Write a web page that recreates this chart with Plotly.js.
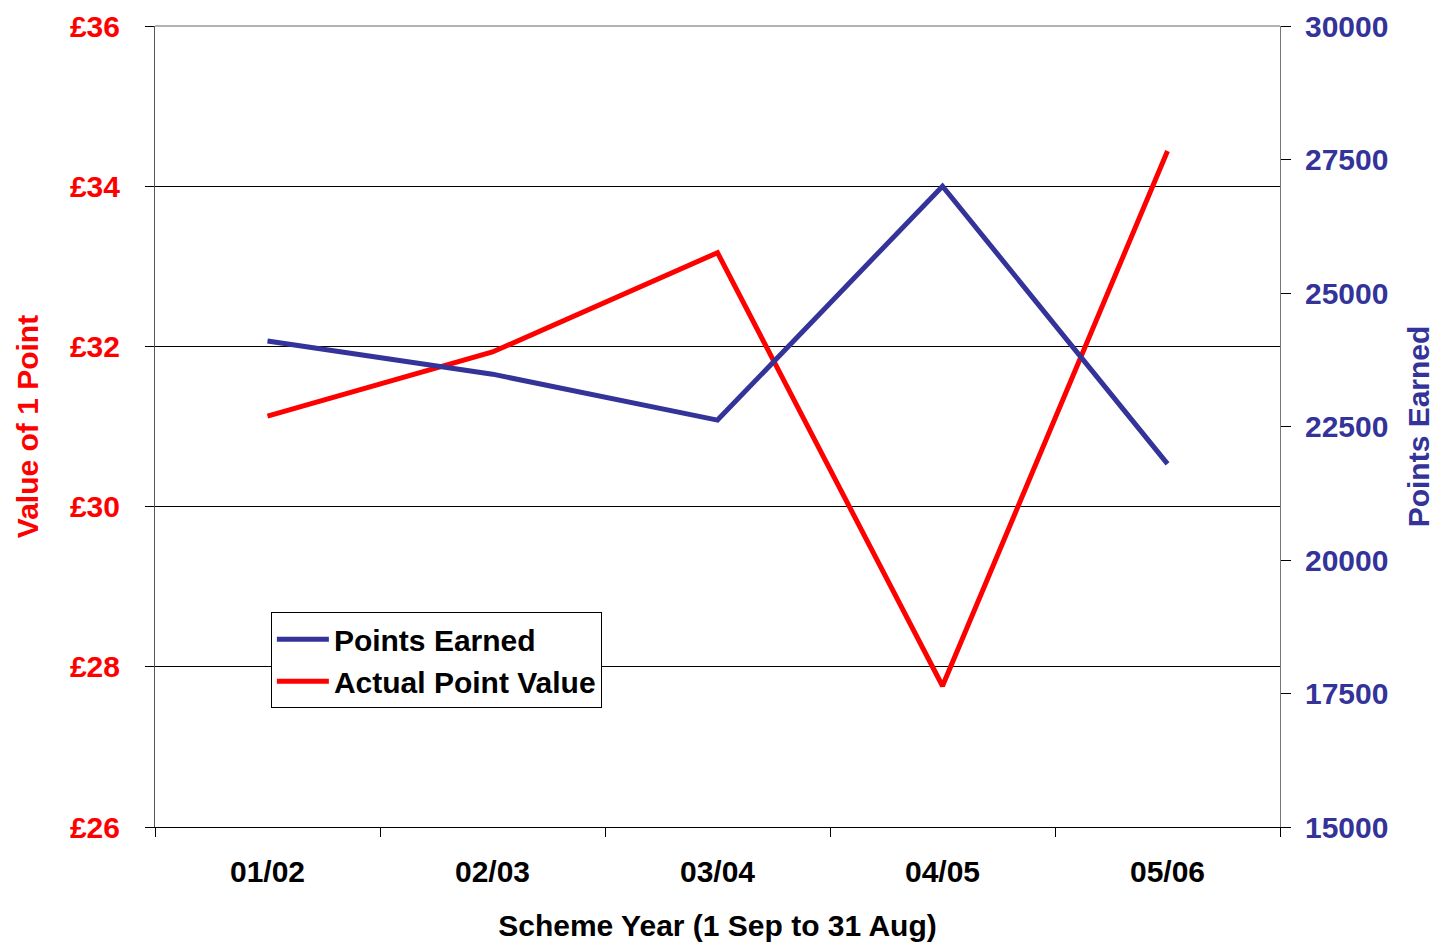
<!DOCTYPE html>
<html>
<head>
<meta charset="utf-8">
<script src="https://cdn.plot.ly/plotly-3.0.1.min.js"></script>
<style>html,body{margin:0;padding:0;background:#fff;}#chart{width:1437px;height:943px;}</style>
</head>
<body>
<div id="chart"></div>
<script>
const years = ['01/02', '02/03', '03/04', '04/05', '05/06'];
const pointsEarned = [24100, 23480, 22620, 27000, 21800];
const pointValue = [31.13, 31.93, 33.17, 27.76, 34.44];
const valueTicks = [26, 28, 30, 32, 34, 36];
const valueTickText = ['£26', '£28', '£30', '£32', '£34', '£36'];
const pointsTicks = [15000, 17500, 20000, 22500, 25000, 27500, 30000];
const pointsTickText = ['15000', '17500', '20000', '22500', '25000', '27500', '30000'];

const FONT = 'Liberation Sans, Arial, sans-serif';
const RED = '#FF0000';
const BLUE = '#333399';

const traces = [
  {
    x: years, y: pointsEarned, name: 'Points Earned', yaxis: 'y2',
    type: 'scatter', mode: 'lines',
    line: {color: BLUE, width: 5}
  },
  {
    x: years, y: pointValue, name: 'Actual Point Value', yaxis: 'y',
    type: 'scatter', mode: 'lines',
    line: {color: RED, width: 5}
  }
];

const layout = {
  width: 1437, height: 943,
  margin: {l: 155, r: 157, t: 26, b: 116},
  paper_bgcolor: '#fff', plot_bgcolor: '#fff',
  font: {family: FONT, size: 30, color: '#000', weight: 'bold'},
  showlegend: true,
  legend: {
    x: 0.103, y: 0.268, xanchor: 'left', yanchor: 'top',
    bgcolor: '#fff', bordercolor: '#000', borderwidth: 1,
    font: {family: FONT, size: 30, color: '#000', weight: 'bold'},
    traceorder: 'normal', itemwidth: 52
  },
  xaxis: {
    type: 'category', range: [-0.5, 4.5],
    tickson: 'boundaries', ticks: 'outside', ticklen: 9, tickcolor: '#000', tickwidth: 1,
    showline: true, linecolor: '#000', linewidth: 1, mirror: false,
    showgrid: false, zeroline: false,
    tickfont: {family: FONT, size: 30, color: '#000', weight: 'bold'},
    ticklabelstandoff: 18,
    title: {text: 'Scheme Year (1 Sep to 31 Aug)', font: {family: FONT, size: 30, color: '#000', weight: 'bold'}, standoff: 27}
  },
  yaxis: {
    range: [26, 36], tickvals: valueTicks, ticktext: valueTickText,
    ticks: 'outside', ticklen: 9, tickcolor: '#000', tickwidth: 1,
    showline: true, linecolor: '#555', linewidth: 1,
    showgrid: true, gridcolor: '#000', gridwidth: 1, zeroline: false,
    tickfont: {family: FONT, size: 30, color: RED, weight: 'bold'},
    ticklabelstandoff: 19,
    title: {text: 'Value of 1 Point', font: {family: FONT, size: 30, color: RED, weight: 'bold'}, standoff: 22}
  },
  yaxis2: {
    overlaying: 'y', side: 'right',
    range: [15000, 30000], tickvals: pointsTicks, ticktext: pointsTickText,
    ticks: 'outside', ticklen: 10, tickcolor: '#000', tickwidth: 1,
    showline: true, linecolor: '#777', linewidth: 1,
    showgrid: false, zeroline: false,
    tickfont: {family: FONT, size: 30, color: BLUE, weight: 'bold'},
    ticklabelstandoff: 8,
    title: {text: 'Points Earned', font: {family: FONT, size: 30, color: BLUE, weight: 'bold'}, standoff: 20}
  },
  shapes: [
    {type: 'line', xref: 'paper', yref: 'paper', x0: 0, x1: 1, y0: 1, y1: 1, line: {color: '#666', width: 1}, layer: 'below'}
  ]
};

Plotly.newPlot('chart', traces, layout, {displayModeBar: false, staticPlot: true});
</script>
</body>
</html>
